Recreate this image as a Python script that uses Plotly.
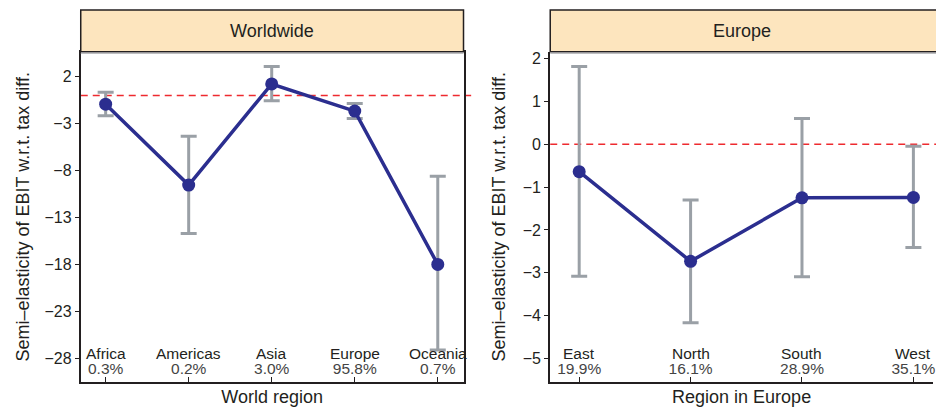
import plotly.graph_objects as go

# ---- data ----
world_regions = ["Africa", "Americas", "Asia", "Europe", "Oceania"]
world_shares = ["0.3%", "0.2%", "3.0%", "95.8%", "0.7%"]
world_est = [-0.93, -9.55, 1.22, -1.67, -18.0]
world_hi = [0.34, -4.36, 3.09, -0.86, -8.6]
world_lo = [-2.17, -14.7, -0.58, -2.45, -27.1]

europe_regions = ["East", "North", "South", "West"]
europe_shares = ["19.9%", "16.1%", "28.9%", "35.1%"]
europe_est = [-0.64, -2.73, -1.25, -1.24]
europe_hi = [1.81, -1.30, 0.60, -0.05]
europe_lo = [-3.08, -4.16, -3.09, -2.41]

y_title = "Semi–elasticity of EBIT w.r.t. tax diff."
FONT = "Liberation Sans, Arial, Helvetica, sans-serif"
INK = "#231F20"
NAVY = "#2B2E8F"
GREY = "#9AA0A6"
RED = "#EE2A2F"
STRIP = "#FDE5BE"

W, H = 936, 409
def py(p):  # pixel from top -> paper fraction
    return 1 - p / H

fig = go.Figure()

def add_panel(est, hi, lo, xa, ya):
    xs = list(range(1, len(est) + 1))
    fig.add_trace(go.Scatter(
        x=xs, y=est, mode="lines+markers", xaxis=xa, yaxis=ya,
        line=dict(color=NAVY, width=3.5),
        marker=dict(color=NAVY, size=13),
        error_y=dict(type="data", symmetric=False,
                     array=[h - e for h, e in zip(hi, est)],
                     arrayminus=[e - l for e, l in zip(est, lo)],
                     color=GREY, thickness=3, width=8),
        showlegend=False, hoverinfo="skip"))

add_panel(world_est, world_hi, world_lo, "x", "y")
add_panel(europe_est, europe_hi, europe_lo, "x2", "y2")

dom_y = [py(381.7), py(50)]
axis_common = dict(showgrid=False, zeroline=False, showline=True,
                   linecolor=INK, linewidth=2)

fig.update_layout(
    width=W, height=H, margin=dict(l=0, r=0, t=0, b=0),
    paper_bgcolor="white", plot_bgcolor="white",
    font=dict(family=FONT, color=INK, size=15),
    xaxis=dict(domain=[81 / W, 465 / W], range=[0.7, 5.31], anchor="y",
               mirror=True, tickvals=list(range(1, 6)), ticktext=world_shares,
               ticks="inside", ticklen=5, tickcolor=INK, tickwidth=1,
               ticklabelposition="inside", ticklabeloverflow="allow",
               tickfont=dict(size=15.5),
               title=dict(text="World region", font=dict(size=18), standoff=15),
               **axis_common),
    yaxis=dict(domain=dom_y, range=[-30.5, 4.65], anchor="x", mirror=True,
               tick0=2, dtick=5, ticks="outside", ticklen=4, tickcolor=INK,
               tickfont=dict(size=16),
               title=dict(text=y_title, font=dict(size=18), standoff=10),
               **axis_common),
    xaxis2=dict(domain=[552 / W, 1.0], range=[0.74, 4.176], anchor="y2",
                mirror=False, tickvals=list(range(1, 5)), ticktext=europe_shares,
                ticks="inside", ticklen=5, tickcolor=INK, tickwidth=1,
                ticklabelposition="inside", ticklabeloverflow="allow",
                tickfont=dict(size=15.5),
                title=dict(text="Region in Europe", font=dict(size=18), standoff=15),
                **axis_common),
    yaxis2=dict(domain=dom_y, range=[-5.54, 2.155], anchor="x2", mirror=False,
                tick0=2, dtick=1, ticks="outside", ticklen=4, tickcolor=INK,
                tickfont=dict(size=16),
                title=dict(text=y_title, font=dict(size=18), standoff=12),
                **axis_common),
)

# zero reference lines
for xa, ya in (("x", "y"), ("x2", "y2")):
    fig.add_shape(type="line", xref=f"{xa} domain", yref=ya, x0=0, x1=1.02,
                  y0=0, y1=0, line=dict(color=RED, width=1.6, dash="7px,5px"),
                  layer="below")

# strips
for xa, label, x1 in (("x", "Worldwide", 1), ("x2", "Europe", 1.05)):
    fig.add_shape(type="rect", xref=f"{xa} domain", yref="paper",
                  x0=0, x1=x1, y0=py(50), y1=py(8),
                  fillcolor=STRIP, line=dict(color=INK, width=1.5), layer="above")
    fig.add_shape(type="line", xref=f"{xa} domain", yref="paper",
                  x0=0, x1=x1, y0=py(51.5), y1=py(51.5),
                  line=dict(color="#A7A9AC", width=1.2))
    fig.add_annotation(xref=f"{xa} domain", yref="paper", x=0.5, y=py(29),
                       text=label, showarrow=False, font=dict(size=18),
                       xanchor="center", yanchor="middle")

# region names (first line of the bottom labels)
for xa, ya, names in (("x", "y", world_regions), ("x2", "y2", europe_regions)):
    for i, n in enumerate(names, start=1):
        fig.add_annotation(xref=xa, yref=f"{ya} domain", x=i,
                           y=(381.7 - 353) / 331.7, text=n, showarrow=False,
                           font=dict(size=15.5), xanchor="center", yanchor="middle")

fig.write_html("out.html")
